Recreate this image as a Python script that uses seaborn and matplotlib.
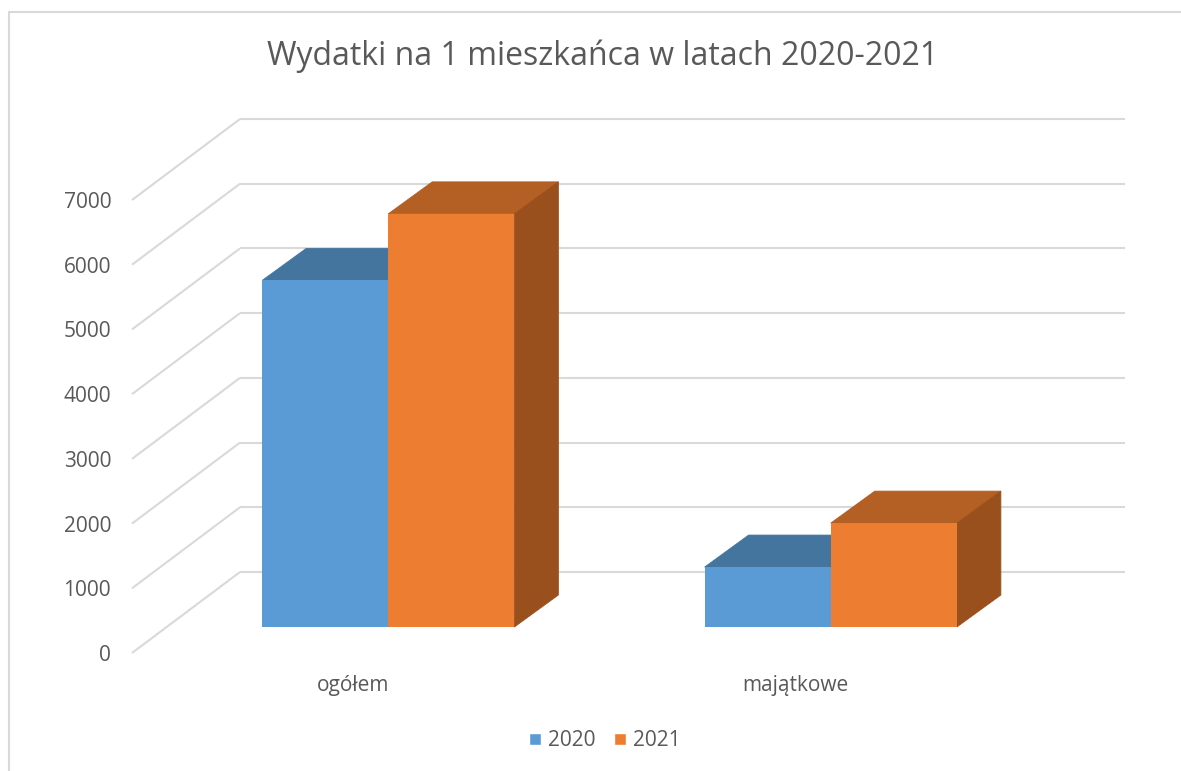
import pandas as pd
import numpy as np
import matplotlib
matplotlib.use('Agg')
import matplotlib.pyplot as plt
from matplotlib.patches import Polygon, Rectangle
import seaborn as sns

sns.set_style('white')
plt.rcParams['font.family'] = ['Open Sans', 'DejaVu Sans']

# dane
kategorie = ['ogółem', 'majątkowe']
lata = ['2020', '2021']
wydatki_2020 = [5355, 926]
wydatki_2021 = [6384, 1605]

kolory_front = ['#5B9BD5', '#ED7D31']
kolory_gora = ['#44759F', '#B45F23']
kolory_bok = ['#3A6590', '#9A501D']
szary = '#595959'
siatka = '#D9D9D9'

df = pd.DataFrame({
    'kategoria': kategorie * 2,
    'rok': [lata[0]] * 2 + [lata[1]] * 2,
    'wartosc': wydatki_2020 + wydatki_2021,
})

W, H = 1181, 771
fig = plt.figure(figsize=(W / 100, H / 100), dpi=100)
# oś "przednia" (płaszczyzna etykiet)
ax_l, ax_b, ax_w, ax_h = 132, 653, 885, 453
ax = fig.add_axes([ax_l / W, (H - ax_b) / H, ax_w / W, ax_h / H])
ymax = 7000

# przeliczenie pikseli na jednostki danych
px_x = 2.0 / ax_w
px_y = ymax / ax_h
sciana_dx, sciana_dy = 108 * px_x, 81 * px_y     # głębokość całej sceny
bar_ox, bar_oy = 35 * px_x, 26 * px_y            # przesunięcie frontu słupków
bar_dx, bar_dy = 44 * px_x, 32 * px_y            # głębokość słupka

sns.barplot(data=df, x='kategoria', y='wartosc', hue='rok', order=kategorie,
            hue_order=lata, palette=kolory_front, width=0.57, saturation=1,
            errorbar=None, legend=False, ax=ax)
ax.set_xlim(-0.5, 1.5)
ax.set_ylim(0, ymax)

# siatka: ściana tylna i boczna
ticks = np.arange(0, ymax + 1, 1000)
for v in ticks:
    ax.plot([-0.5, -0.5 + sciana_dx], [v, v + sciana_dy], color=siatka, lw=1.5,
            clip_on=False, zorder=0.5, solid_capstyle='butt')
    ax.plot([-0.5 + sciana_dx, 1.5 + sciana_dx], [v + sciana_dy, v + sciana_dy],
            color=siatka, lw=1.5, clip_on=False, zorder=0.5, solid_capstyle='butt')

# słupki 3D
bars = list(ax.patches)
for i, p in enumerate(bars):
    h = i // len(kategorie)
    x0 = p.get_x() + bar_ox
    x1 = x0 + p.get_width()
    y0 = bar_oy
    y1 = p.get_height() + bar_oy
    z = 2 + i % len(kategorie) * 10 + h * 3
    p.set_x(x0)
    p.set_y(y0)
    p.set_edgecolor('none')
    p.set_clip_on(False)
    p.set_zorder(z + 2)
    gora = Polygon([(x0, y1), (x1, y1), (x1 + bar_dx, y1 + bar_dy), (x0 + bar_dx, y1 + bar_dy)],
                   closed=True, facecolor=kolory_gora[h], edgecolor=kolory_gora[h], lw=0.6,
                   clip_on=False, zorder=z)
    bok = Polygon([(x1, y0), (x1, y1), (x1 + bar_dx, y1 + bar_dy), (x1 + bar_dx, y0 + bar_dy)],
                  closed=True, facecolor=kolory_bok[h], edgecolor=kolory_bok[h], lw=0.6,
                  clip_on=False, zorder=z)
    ax.add_patch(gora)
    ax.add_patch(bok)

ax.set_yticks(ticks)
ax.set_yticklabels([str(int(t)) for t in ticks])
ax.tick_params(axis='both', length=0, labelsize=15, labelcolor=szary)
ax.tick_params(axis='y', pad=15)
ax.tick_params(axis='x', pad=16)
ax.set_xlabel('')
ax.set_ylabel('')
for s in ax.spines.values():
    s.set_visible(False)
ax.patch.set_alpha(0)

fig.text(603 / W, 1 - 56 / H, 'Wydatki na 1 mieszkańca w latach 2020-2021',
         ha='center', va='center', fontsize=23, color=szary)

uchwyty = [Rectangle((0, 0), 1, 1, facecolor=c) for c in kolory_front]
fig.legend(uchwyty, lata, loc='center', bbox_to_anchor=(605 / W, 1 - 741 / H), ncol=2,
           frameon=False, fontsize=15, labelcolor=szary, handlelength=0.55,
           handleheight=0.55, handletextpad=0.35, columnspacing=0.9)

fig.patches.append(Rectangle((9 / W, -0.1), 1.2, (H - 12) / H + 0.1, transform=fig.transFigure,
                             fill=False, edgecolor=siatka, lw=1.5))

fig.savefig('out.png', dpi=100)
